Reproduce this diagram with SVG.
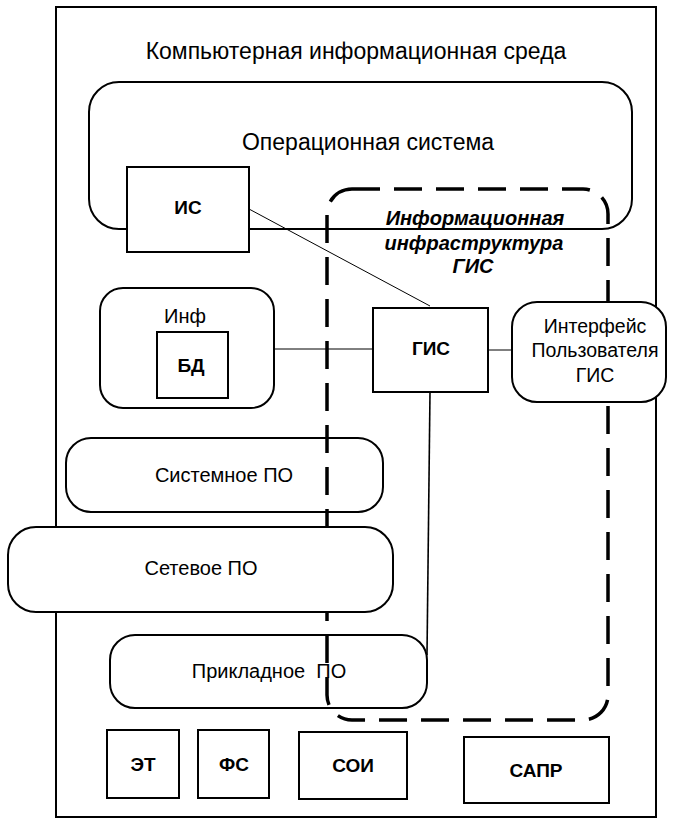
<svg xmlns="http://www.w3.org/2000/svg" width="684" height="819" viewBox="0 0 684 819">
<defs>
<style>
text{font-family:"Liberation Sans",Arial,sans-serif;fill:#000;text-anchor:middle}
.big{font-size:23px}
.lbl{font-size:20px}
.ui{font-size:19.5px}
.b{font-size:19px;font-weight:bold}
.bi{font-size:20px;font-weight:bold;font-style:italic}
.box{fill:none;stroke:#000;stroke-width:2}
.wbox{fill:#fff;stroke:#000;stroke-width:2}
.dash{fill:none;stroke:#000;stroke-width:3.5;stroke-dasharray:28 14}
.con{fill:none;stroke:#000;stroke-width:1}
.con2{fill:none;stroke:#000;stroke-width:1.6}
</style>
</defs>
<rect width="684" height="819" fill="#fff"/>
<g id="frame">
<rect class="box" x="56" y="7" width="600" height="810"/>
<text class="big" x="356" y="59">Компьютерная информационная среда</text>
</g>
<g id="os">
<rect class="box" x="89" y="82" width="543" height="147" rx="30"/>
<text class="big" x="368" y="150">Операционная система</text>
</g>
<g id="gis-infra">
<rect class="dash" x="327" y="189" width="281" height="531" rx="25"/>
<text class="bi" x="475" y="225">Информационная</text>
<text class="bi" x="474" y="250">инфраструктура</text>
<text class="bi" x="473" y="273">ГИС</text>
</g>
<g id="sys-po">
<rect class="box" x="66" y="438" width="317" height="74" rx="25"/>
<text class="lbl" x="224" y="482">Системное ПО</text>
</g>
<g id="app-po">
<rect class="box" x="110" y="635" width="317" height="73" rx="25"/>
<text class="lbl" x="269" y="678" style="white-space:pre">Прикладное  ПО</text>
</g>
<g id="net-po">
<rect class="wbox" x="8" y="527" width="385" height="85" rx="28"/>
<text class="lbl" x="201" y="575">Сетевое ПО</text>
</g>
<g id="connectors">
<line class="con" x1="249" y1="209" x2="430" y2="306"/>
<line class="con" x1="274" y1="349" x2="373" y2="349"/>
<line class="con" x1="488" y1="350" x2="512" y2="350"/>
<line class="con2" x1="430" y1="392" x2="427" y2="655"/>
</g>
<g id="is">
<rect class="wbox" x="127" y="167" width="122" height="85"/>
<text class="b" x="188" y="214">ИС</text>
</g>
<g id="inf">
<rect class="box" x="100" y="288" width="174" height="120" rx="23"/>
<text class="lbl" x="185" y="323">Инф</text>
</g>
<g id="bd">
<rect class="box" x="157" y="332" width="71" height="66"/>
<text class="b" x="191" y="372">БД</text>
</g>
<g id="gis">
<rect class="wbox" x="373" y="308" width="115" height="84"/>
<text class="b" x="431" y="355">ГИС</text>
</g>
<g id="ui">
<rect class="wbox" x="512" y="302" width="154" height="100" rx="25"/>
<text class="ui" x="595" y="333">Интерфейс</text>
<text class="ui" x="595" y="357">Пользователя</text>
<text class="ui" x="595" y="382">ГИС</text>
</g>
<g id="et">
<rect class="box" x="107" y="730" width="72" height="68"/>
<text class="b" x="143" y="771">ЭТ</text>
</g>
<g id="fs">
<rect class="box" x="198" y="730" width="71" height="68"/>
<text class="b" x="234" y="771">ФС</text>
</g>
<g id="soi">
<rect class="box" x="299" y="732" width="108" height="67"/>
<text class="b" x="353" y="772">СОИ</text>
</g>
<g id="sapr">
<rect class="box" x="464" y="737" width="145" height="66"/>
<text class="b" x="536" y="777">САПР</text>
</g>
</svg>
